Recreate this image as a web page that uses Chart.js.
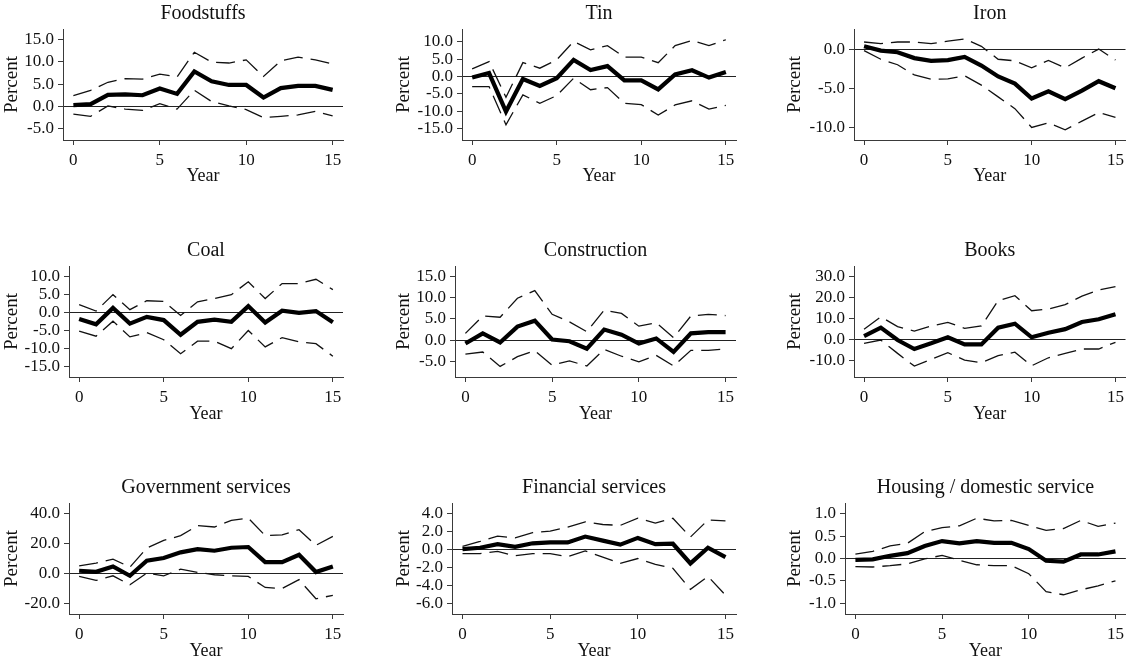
<!DOCTYPE html>
<html>
<head>
<meta charset="utf-8">
<script src="https://cdn.jsdelivr.net/npm/chart.js@4/dist/chart.umd.min.js"></script>
<style>
  body { margin: 0; background: #fff; width: 1129px; height: 662px; overflow: hidden; position: relative; }
  canvas { position: absolute; }
</style>
</head>
<body>
<script>
// horizon (years after shock)
const years = [0, 1, 2, 3, 4, 5, 6, 7, 8, 9, 10, 11, 12, 13, 14, 15];
const xTicks = [0, 5, 10, 15];

const foodMid = [0.3, 0.5, 2.6, 2.7, 2.5, 4.0, 2.8, 7.8, 5.6, 4.8, 4.8, 2.0, 4.1, 4.6, 4.6, 3.7];
const foodHi = [2.4, 3.6, 5.4, 6.2, 6.1, 7.2, 6.6, 12.1, 9.9, 9.7, 10.4, 6.7, 10.2, 11.0, 10.4, 9.5];
const foodLo = [-1.7, -2.2, 0.1, -0.6, -0.9, 0.6, -0.6, 3.6, 1.1, 0.1, -0.7, -2.5, -2.2, -1.9, -1.1, -2.1];
const foodTicks = [-5, 0, 5, 10, 15];

const tinMid = [-0.3, 1.0, -10.1, -0.7, -2.7, -0.5, 4.8, 1.9, 3.0, -1.1, -1.1, -3.7, 0.6, 1.8, -0.3, 1.3];
const tinHi = [2.2, 4.3, -6.0, 4.0, 2.4, 4.8, 10.1, 7.7, 8.9, 5.6, 5.6, 4.0, 8.9, 10.4, 8.9, 10.6];
const tinLo = [-2.9, -2.9, -13.9, -5.3, -7.7, -5.5, -0.5, -3.8, -3.2, -7.7, -8.1, -11.1, -8.2, -7.0, -9.4, -8.3];
const tinTicks = [-15, -10, -5, 0, 5, 10];

const ironMid = [0.35, -0.2, -0.4, -1.15, -1.5, -1.4, -1.0, -2.1, -3.5, -4.4, -6.3, -5.4, -6.4, -5.3, -4.1, -5.0];
const ironHi = [0.9, 0.7, 0.9, 0.9, 0.7, 1.0, 1.3, 0.35, -1.3, -1.5, -2.4, -1.45, -2.4, -1.15, 0.0, -1.4];
const ironLo = [-0.2, -1.3, -2.0, -3.3, -3.85, -3.8, -3.4, -4.6, -6.1, -7.6, -10.0, -9.4, -10.3, -9.2, -8.1, -8.7];
const ironTicks = [-10, -5, 0];

const coalMid = [-1.8, -3.3, 1.3, -3.1, -1.2, -2.1, -6.2, -2.6, -2.0, -2.6, 1.8, -2.8, 0.5, -0.1, 0.4, -2.7];
const coalHi = [2.2, 0.4, 5.0, 0.8, 3.3, 3.1, -0.8, 3.0, 3.9, 5.0, 8.6, 3.9, 8.1, 8.1, 9.3, 6.4];
const coalLo = [-5.2, -6.6, -2.4, -6.8, -5.6, -7.6, -11.5, -8.0, -8.0, -10.1, -5.0, -9.6, -7.0, -8.2, -8.7, -12.2];
const coalTicks = [-15, -10, -5, 0, 5, 10];

const consMid = [-0.8, 1.6, -0.55, 3.2, 4.6, 0.15, -0.25, -2.0, 2.5, 1.3, -0.8, 0.4, -2.8, 1.6, 1.9, 1.9];
const consHi = [1.6, 5.7, 5.4, 9.9, 11.7, 6.1, 4.3, 2.0, 7.1, 6.3, 3.3, 4.1, 0.6, 5.7, 6.1, 5.8];
const consLo = [-3.3, -2.8, -6.2, -3.9, -2.5, -5.9, -4.9, -6.1, -2.2, -3.8, -5.1, -3.6, -6.1, -2.4, -2.4, -2.1];
const consTicks = [-5, 0, 5, 10, 15];

const booksMid = [1.6, 5.6, -0.3, -4.6, -1.9, 1.0, -2.4, -2.4, 5.6, 7.5, 1.0, 3.2, 4.9, 8.3, 9.6, 12.0];
const booksHi = [4.8, 10.8, 6.1, 4.0, 6.4, 8.1, 5.3, 6.4, 18.5, 20.9, 13.7, 14.5, 16.6, 20.7, 23.6, 25.2];
const booksLo = [-1.9, -0.3, -6.7, -12.8, -9.6, -6.4, -9.9, -11.2, -7.8, -6.1, -12.6, -8.8, -6.7, -4.6, -4.6, -1.4];
const booksTicks = [-10, 0, 10, 20, 30];

const govMid = [1.8, 1.1, 4.7, -1.6, 8.5, 10.3, 14.1, 16.3, 15.2, 17.2, 17.7, 7.6, 7.6, 12.5, 0.9, 4.7];
const govHi = [5.1, 6.9, 9.6, 4.2, 17.0, 22.1, 25.3, 32.0, 31.1, 35.5, 37.1, 25.3, 25.9, 29.3, 18.8, 24.8];
const govLo = [-2.0, -4.7, -1.6, -7.6, 0.2, -1.6, 2.9, 0.7, -0.9, -1.6, -2.0, -9.4, -10.1, -4.2, -17.0, -14.7];
const govTicks = [-20, 0, 20, 40];

const finMid = [0.05, 0.2, 0.6, 0.3, 0.7, 0.8, 0.8, 1.45, 1.0, 0.55, 1.3, 0.6, 0.65, -1.55, 0.2, -0.85];
const finHi = [0.35, 0.9, 1.5, 1.3, 1.9, 2.05, 2.5, 3.1, 2.8, 2.7, 3.5, 2.95, 3.5, 1.4, 3.3, 3.2];
const finLo = [-0.45, -0.45, -0.2, -0.7, -0.45, -0.45, -0.8, -0.15, -0.85, -1.55, -1.0, -1.65, -2.1, -4.45, -3.0, -5.1];
const finTicks = [-6, -4, -2, 0, 2, 4];

const housMid = [-0.03, -0.02, 0.06, 0.12, 0.28, 0.39, 0.34, 0.39, 0.35, 0.35, 0.21, -0.05, -0.07, 0.09, 0.09, 0.16];
const housHi = [0.1, 0.16, 0.28, 0.34, 0.6, 0.69, 0.73, 0.9, 0.84, 0.85, 0.74, 0.63, 0.67, 0.85, 0.72, 0.79];
const housLo = [-0.18, -0.19, -0.16, -0.12, -0.01, 0.07, -0.04, -0.14, -0.16, -0.16, -0.34, -0.74, -0.81, -0.7, -0.61, -0.5];
const housTicks = [-1, -0.5, 0, 0.5, 1];

// panels in reading order; ymin/ymax give the padded plot range
const panels = [
  { title: "Foodstuffs", mid: foodMid, hi: foodHi, lo: foodLo, ticks: foodTicks, ymin: -7.5, ymax: 17.3, axisX: 63 },
  { title: "Tin", mid: tinMid, hi: tinHi, lo: tinLo, ticks: tinTicks, ymin: -18.3, ymax: 13.7, axisX: 462 },
  { title: "Iron", mid: ironMid, hi: ironHi, lo: ironLo, ticks: ironTicks, ymin: -11.6, ymax: 2.56, axisX: 854 },
  { title: "Coal", mid: coalMid, hi: coalHi, lo: coalLo, ticks: coalTicks, ymin: -18.0, ymax: 13.0, axisX: 69 },
  { title: "Construction", mid: consMid, hi: consHi, lo: consLo, ticks: consTicks, ymin: -8.7, ymax: 17.5, axisX: 455 },
  { title: "Books", mid: booksMid, hi: booksHi, lo: booksLo, ticks: booksTicks, ymin: -18.0, ymax: 35.1, axisX: 854 },
  { title: "Government services", mid: govMid, hi: govHi, lo: govLo, ticks: govTicks, ymin: -27.2, ymax: 47.2, axisX: 69 },
  { title: "Financial services", mid: finMid, hi: finHi, lo: finLo, ticks: finTicks, ymin: -7.2, ymax: 5.2, axisX: 452 },
  { title: "Housing / domestic service", mid: housMid, hi: housHi, lo: housLo, ticks: housTicks, ymin: -1.24, ymax: 1.24, axisX: 845 }
];

const colLeft = [0, 392, 783];
const plotRight = [343, 736, 1128];
const rowTop = [0, 238, 475];
const axisTop = [29, 266, 503];
const axisBottom = [140, 377, 614];
const canvasH = 187;

const SERIF = '"Liberation Serif", "Times New Roman", serif';
const AXIS_COLOR = "#3a3a3a";

// draws the panel heading centred over the plot area
const panelTitle = {
  id: "panelTitle",
  afterDraw(chart, args, opts) {
    const { ctx, chartArea } = chart;
    ctx.save();
    ctx.font = "20px " + SERIF;
    ctx.fillStyle = "#111";
    ctx.textAlign = "center";
    ctx.textBaseline = "middle";
    ctx.fillText(opts.text, (chartArea.left + chartArea.right) / 2, chartArea.top - 15);
    ctx.restore();
  }
};

function toPoints(values) {
  return years.map((x, i) => ({ x: x, y: values[i] }));
}

panels.forEach((p, idx) => {
  const col = idx % 3;
  const row = Math.floor(idx / 3);
  const left = colLeft[col];
  const width = (col === 2 ? 1129 : colLeft[col + 1]) - left;
  const top = rowTop[row];

  const canvas = document.createElement("canvas");
  canvas.width = width;
  canvas.height = canvasH;
  canvas.style.left = left + "px";
  canvas.style.top = top + "px";
  canvas.style.width = width + "px";
  canvas.style.height = canvasH + "px";
  document.body.appendChild(canvas);

  const dashed = {
    borderColor: "#111",
    borderWidth: 1.3,
    borderDash: [19, 8],
    pointRadius: 0,
    tension: 0,
    fill: false
  };

  new Chart(canvas.getContext("2d"), {
    type: "line",
    data: {
      datasets: [
        Object.assign({ label: "Upper", data: toPoints(p.hi) }, dashed),
        Object.assign({ label: "Lower", data: toPoints(p.lo) }, dashed),
        {
          label: "Estimate",
          data: toPoints(p.mid),
          borderColor: "#000",
          borderWidth: 4.2,
          pointRadius: 0,
          tension: 0,
          fill: false
        }
      ]
    },
    plugins: [panelTitle],
    options: {
      responsive: false,
      animation: false,
      devicePixelRatio: 1,
      layout: {
        autoPadding: false,
        padding: {
          top: axisTop[row] - top,
          right: left + width - plotRight[col],
          left: 0,
          bottom: 0
        }
      },
      plugins: {
        legend: { display: false },
        tooltip: { enabled: false },
        panelTitle: { text: p.title }
      },
      scales: {
        x: {
          type: "linear",
          min: -0.6,
          max: 15.6,
          afterBuildTicks: scale => { scale.ticks = xTicks.map(v => ({ value: v })); },
          afterFit: scale => { scale.height = top + canvasH - axisBottom[row]; },
          ticks: {
            font: { family: SERIF, size: 17 },
            color: "#111",
            padding: 5,
            maxRotation: 0,
            autoSkip: false,
            callback: v => String(v)
          },
          grid: { drawOnChartArea: false, tickLength: 5, tickColor: AXIS_COLOR, lineWidth: 1 },
          border: { display: true, color: AXIS_COLOR, width: 1 },
          title: {
            display: true,
            text: "Year",
            font: { family: SERIF, size: 18 },
            color: "#111",
            padding: { top: 0, bottom: 0 }
          }
        },
        y: {
          type: "linear",
          min: p.ymin,
          max: p.ymax,
          afterBuildTicks: scale => { scale.ticks = p.ticks.map(v => ({ value: v })); },
          afterFit: scale => { scale.width = p.axisX - left; },
          ticks: {
            font: { family: SERIF, size: 17 },
            color: "#111",
            padding: 4,
            autoSkip: false,
            callback: v => Number(v).toFixed(1)
          },
          grid: {
            drawOnChartArea: true,
            tickLength: 5,
            tickColor: AXIS_COLOR,
            lineWidth: 1,
            color: ctx => (ctx.tick && ctx.tick.value === 0 ? "#222" : "rgba(0,0,0,0)")
          },
          border: { display: true, color: AXIS_COLOR, width: 1 },
          title: {
            display: true,
            text: "Percent",
            font: { family: SERIF, size: 19 },
            color: "#111",
            padding: { top: 1, bottom: 0 }
          }
        }
      }
    }
  });
});
</script>
</body>
</html>
